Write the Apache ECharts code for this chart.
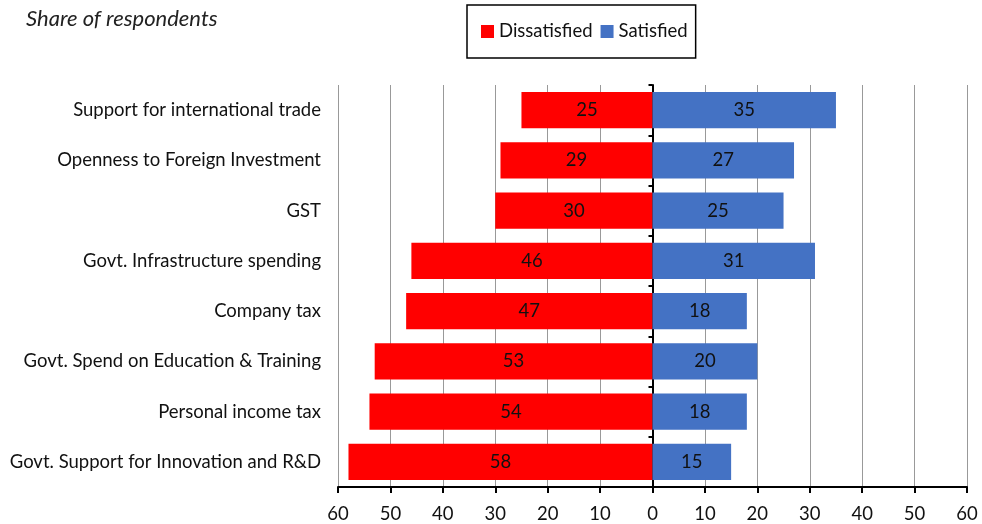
<!DOCTYPE html>
<html><head><meta charset="utf-8">
<script src="https://cdn.jsdelivr.net/npm/echarts@6/dist/echarts.min.js"></script>
<style>html,body{margin:0;padding:0;background:#fff}#c{width:982px;height:524px}</style>
</head><body><div id="c"></div>
<script>
const categories = ["Support for international trade","Openness to Foreign Investment","GST","Govt. Infrastructure spending","Company tax","Govt. Spend on Education & Training","Personal income tax","Govt. Support for Innovation and R&D"];
const dissatisfied = [25,29,30,46,47,53,54,58];
const satisfied = [35,27,25,31,18,20,18,15];
const FONT = "Lato";
const FS = 18.5;
const chart = echarts.init(document.getElementById('c'));
chart.setOption({
  animation:false,
  textStyle:{fontFamily:FONT},
  title:{text:"Share of respondents",left:21,top:3,textStyle:{fontFamily:FONT,fontStyle:'italic',fontWeight:'normal',fontSize:22,color:'#222'}},
  legend:{left:467,top:5,padding:[17,8,17,14],borderColor:'#000',borderWidth:1.5,itemWidth:13,itemHeight:13,itemGap:8,icon:'rect',
    textStyle:{fontFamily:FONT,fontSize:FS,color:'#111'},data:['Dissatisfied','Satisfied']},
  grid:{left:338,right:15,top:85,bottom:36,containLabel:false},
  xAxis:{type:'value',min:-60,max:60,interval:10,
    axisLine:{show:true,onZero:false,lineStyle:{color:'#000',width:2}},
    axisTick:{show:true,length:6,lineStyle:{color:'#000',width:2}},
    axisLabel:{formatter:v=>Math.abs(v),fontSize:FS,color:'#111',margin:18,fontFamily:FONT},
    splitLine:{show:true,lineStyle:{color:'#999',width:1}}},
  yAxis:[{type:'category',data:categories,inverse:true,position:'left',
    axisLine:{show:false,onZero:false},axisTick:{show:false},
    axisLabel:{fontSize:FS,color:'#111',margin:17,fontFamily:FONT}},
    {type:'category',data:categories,inverse:true,position:'left',
    axisLine:{show:true,onZero:true,onZeroAxisIndex:0,lineStyle:{color:'#000',width:2}},
    axisTick:{show:true,length:4,inside:false,lineStyle:{color:'#000',width:2}},
    axisLabel:{show:false},splitLine:{show:false}}],
  series:[
    {name:'Dissatisfied',type:'bar',stack:'a',barWidth:'72%',data:dissatisfied.map(v=>-v),
     itemStyle:{color:'#FF0000'},label:{show:true,position:'inside',formatter:p=>Math.abs(p.value),color:'#111',fontSize:FS,fontFamily:FONT}},
    {name:'Satisfied',type:'bar',stack:'a',barWidth:'72%',data:satisfied,
     itemStyle:{color:'#4472C4'},label:{show:true,position:'inside',formatter:p=>p.value,color:'#111',fontSize:FS,fontFamily:FONT}}
  ]
});
</script></body></html>
